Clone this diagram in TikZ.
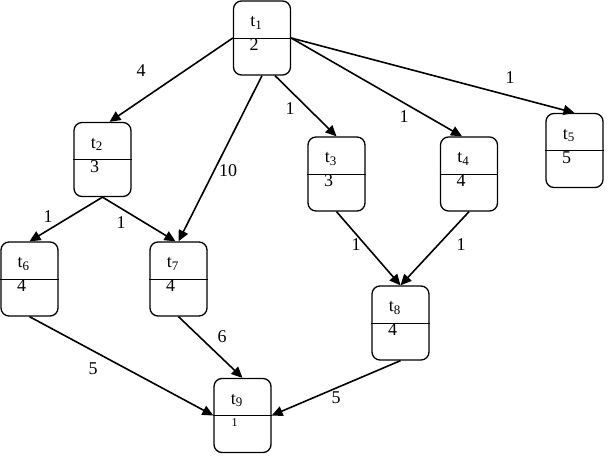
\documentclass[tikz,border=0pt]{standalone}
\usepackage{fontspec}
\setmainfont{Liberation Serif}
\usetikzlibrary{arrows.meta,calc}
\tikzset{
  taskbox/.style={draw, line width=1.3pt, rounded corners=8pt, minimum width=57pt, minimum height=74pt, inner sep=0pt},
  tasklab/.style={inner sep=0pt, font=\fontsize{18}{21}\selectfont},
  wlab/.style={inner sep=0pt, font=\fontsize{18}{21}\selectfont},
  edge/.style={line width=1.6pt, -{Triangle[length=11pt,width=10pt]}},
}
\newcommand\mytask[5]{%
  \node[taskbox] (#1) at (#2) {};
  \draw[line width=1pt] (#1.west) -- (#1.east);
  \node[tasklab] (#1a) at ($(#1)+(-6,-15)$) {t\raisebox{-0.3ex}{\fontsize{13}{13}\selectfont #3}};
  \node[tasklab,#5] (#1b) at ($(#1)+(-8,7)$) {#4};
}
\begin{document}
\begin{tikzpicture}[x=1pt,y=-1pt]
\useasboundingbox (0,0) rectangle (608,458);
\mytask{t1}{262,38}{1}{2}{}
\mytask{t2}{102.5,159.5}{2}{3}{}
\mytask{t3}{336.5,174}{3}{3}{}
\mytask{t4}{469,174}{4}{4}{}
\mytask{t5}{574.5,150.5}{5}{5}{}
\mytask{t6}{29.5,279}{6}{4}{}
\mytask{t7}{178.5,279}{7}{4}{}
\mytask{t8}{400.5,323}{8}{4}{}
\mytask{t9}{242.5,415.5}{9}{1}{font=\fontsize{12}{14}\selectfont}

\draw[edge] (t1.west) -- ([xshift=7pt]t2.north);
\draw[edge] (t1.south) -- (t7.north);
\draw[edge] ([xshift=13pt]t1.south) -- (t3.north);
\draw[edge] (t1.east) -- ([xshift=-7pt]t4.north);
\draw[edge] (t1.east) -- (t5.north);
\draw[edge] (t2.south) -- (t6.north);
\draw[edge] (t2.south) -- ([xshift=-3pt]t7.north);
\draw[edge] (t3.south) -- (t8.north);
\draw[edge] (t4.south) -- (t8.north);
\draw[edge] (t6.south) -- (t9.west);
\draw[edge] (t7.south) -- (t9.north);
\draw[edge] (t8.south) -- (t9.east);

\node[wlab] (w12) at (141,71) {4};
\node[wlab] (w17) at (228,171) {10};
\node[wlab] (w13) at (290,109) {1};
\node[wlab] (w14) at (404,117) {1};
\node[wlab] (w15) at (510,78) {1};
\node[wlab] (w26) at (48,217) {1};
\node[wlab] (w27) at (121,223) {1};
\node[wlab] (w38) at (356,245) {1};
\node[wlab] (w48) at (461,245) {1};
\node[wlab] (w69) at (93,369) {5};
\node[wlab] (w79) at (222,337) {6};
\node[wlab] (w89) at (336,398) {5};
\end{tikzpicture}
\end{document}
